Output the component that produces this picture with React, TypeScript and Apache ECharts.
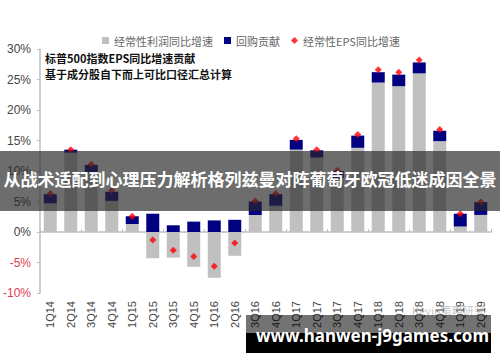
import React, { useEffect, useRef } from "react";
import * as echarts from "echarts";

const categories = [
  "1Q14", "2Q14", "3Q14", "4Q14", "1Q15", "2Q15", "3Q15", "4Q15", "1Q16", "2Q16", "3Q16",
  "4Q16", "1Q17", "2Q17", "3Q17", "4Q17", "1Q18", "2Q18", "3Q18", "4Q18", "1Q19", "2Q19",
];
const profitGrowth = [
  4.7, 13.0, 9.8, 5.1, 1.3, -4.3, -4.2, -5.7, -7.5, -3.9, 2.8,
  4.3, 13.5, 12.2, 8.8, 13.8, 24.5, 23.9, 26.0, 14.9, 0.9, 2.8,
];
const buyback = [
  1.5, 0.5, 1.2, 1.5, 1.3, 3.0, 1.1, 1.7, 1.9, 2.0, 2.2,
  1.9, 1.6, 1.2, 1.2, 2.0, 1.7, 1.9, 1.8, 1.7, 2.1, 2.1,
];
const epsGrowth = [
  6.3, 13.5, 11.1, 6.8, 2.6, -1.3, -3.0, -4.0, -5.6, -1.8, 5.1,
  6.3, 15.3, 13.5, 10.1, 16.0, 26.6, 26.2, 28.2, 16.8, 3.0, 4.9,
];
const seriesNames = ["经常性利润同比增速", "回购贡献", "经常性EPS同比增速"];
const noteLines = ["标普500指数EPS同比增速贡献", "基于成分股自下而上可比口径汇总计算"];
const overlayTitle = "从战术适配到心理压力解析格列兹曼对阵葡萄牙欧冠低迷成因全景";
const siteText = "www.hanwen-j9games.com";
const sourceText = "Kevin策略研究";

const CJK = "'Noto Sans CJK SC', 'Noto Sans', sans-serif";
const LAT = "'Liberation Sans', Arial, sans-serif";

export default function App() {
  const ref = useRef<HTMLDivElement>(null);
  useEffect(() => {
    if (!ref.current) return;
    const chart = echarts.init(ref.current, null, { renderer: "svg" });
    chart.setOption({
      animation: false,
      backgroundColor: "#ffffff",
      grid: { left: 40, right: 9, top: 49, bottom: 69, containLabel: false },
      legend: {
        left: 97,
        top: 30,
        itemWidth: 7,
        itemHeight: 7,
        itemGap: 11,
        textStyle: { fontFamily: CJK, fontSize: 11, color: "#666" },
        data: [
          { name: seriesNames[0], icon: "rect" },
          { name: seriesNames[1], icon: "rect" },
          { name: seriesNames[2], icon: "diamond" },
        ],
      },
      xAxis: [
        {
          type: "category",
          data: categories,
          position: "bottom",
          axisLine: { show: false, onZero: false },
          axisTick: { show: false },
          axisLabel: {
            rotate: 90,
            margin: 8,
            interval: 0,
            fontFamily: LAT,
            fontSize: 11,
            color: "#444",
          },
        },
        {
          type: "category",
          data: categories,
          position: "top",
          axisLine: { show: true, onZero: true, lineStyle: { color: "#bfbfbf", width: 1.5 } },
          axisTick: { show: true, length: 3, lineStyle: { color: "#bfbfbf" } },
          axisLabel: { show: false },
        },
      ],
      yAxis: {
        type: "value",
        min: -10,
        max: 30,
        interval: 5,
        axisLine: { show: true, lineStyle: { color: "#bfbfbf", width: 1.5 } },
        axisTick: { show: true, length: 3, lineStyle: { color: "#bfbfbf" } },
        splitLine: { show: false },
        axisLabel: {
          margin: 9,
          fontFamily: LAT,
          fontSize: 12,
          formatter: (v: number) => v + "%",
          color: (v: any) => (Number(v) < 0 ? "#e0404f" : "#444"),
        },
      },
      series: [
        {
          name: seriesNames[0],
          type: "bar",
          stack: "total",
          barWidth: 13,
          xAxisIndex: 0,
          itemStyle: { color: "#c0c0c0" },
          data: profitGrowth,
        },
        {
          name: seriesNames[1],
          type: "bar",
          stack: "total",
          barWidth: 13,
          xAxisIndex: 0,
          itemStyle: { color: "#000080" },
          data: buyback,
        },
        {
          name: seriesNames[2],
          type: "scatter",
          symbol: "diamond",
          symbolSize: 7,
          xAxisIndex: 0,
          itemStyle: { color: "#ff0000" },
          z: 5,
          data: epsGrowth,
        },
      ],
      graphic: [
        {
          type: "text",
          left: 45,
          top: 50,
          z: 10,
          style: {
            text: noteLines.join("\n"),
            font: "bold 11px " + CJK,
            fill: "#111",
            lineHeight: 16,
          },
        },
        {
          type: "rect",
          left: 0,
          top: 151,
          z: 20,
          shape: { width: 500, height: 60 },
          style: { fill: "rgba(40,40,40,0.68)" },
        },
        {
          type: "text",
          left: "center",
          top: 170,
          z: 21,
          style: {
            text: overlayTitle,
            font: "bold 17px " + CJK,
            fill: "#ffffff",
          },
        },
        {
          type: "text",
          left: 412,
          top: 304,
          z: 9,
          style: { text: sourceText, font: "11px " + CJK, fill: "rgba(160,160,160,0.6)" },
        },
        {
          type: "rect",
          left: 246,
          top: 315,
          z: 20,
          shape: { width: 245, height: 18 },
          style: { fill: "rgba(0,0,0,0.55)" },
        },
        {
          type: "rect",
          left: 246,
          top: 333,
          z: 20,
          shape: { width: 245, height: 20 },
          style: { fill: "#000000" },
        },
        {
          type: "text",
          left: 256,
          top: 327,
          z: 21,
          style: { text: siteText, font: "bold 17px 'Noto Sans', sans-serif", fill: "#ffffff" },
        },
      ],
    });
    return () => chart.dispose();
  }, []);
  return (
    <div
      ref={ref}
      style={{ position: "fixed", left: 0, top: 0, width: 500, height: 362, background: "#fff" }}
    />
  );
}
